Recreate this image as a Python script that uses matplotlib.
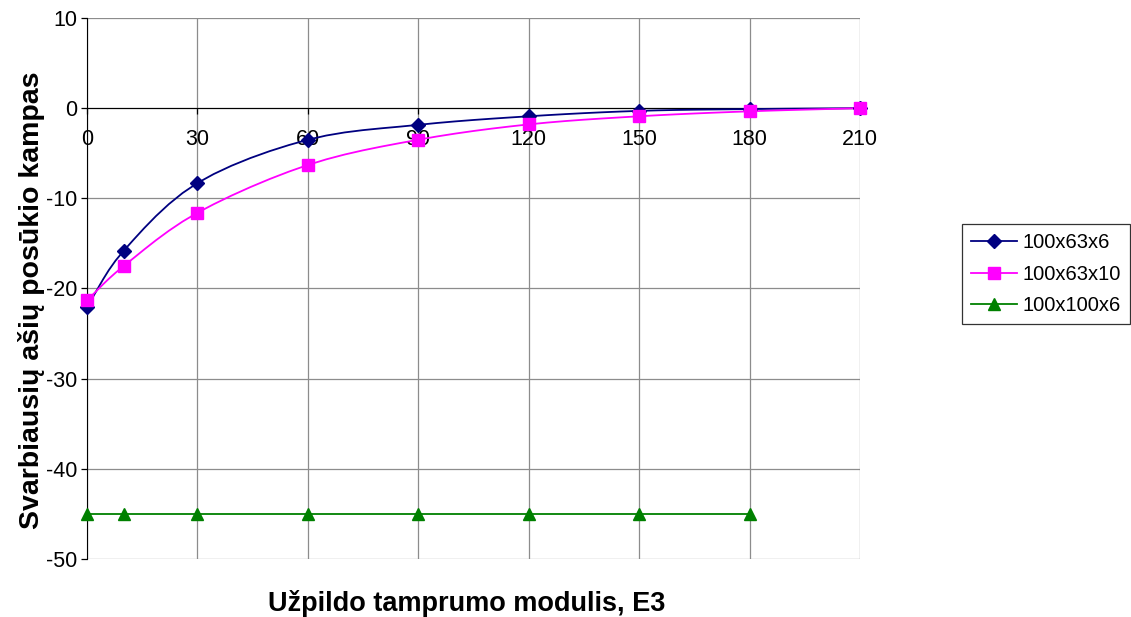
import matplotlib
matplotlib.use("Agg")
import matplotlib.pyplot as plt
import numpy as np

plt.rcParams['font.family'] = ['Liberation Sans', 'DejaVu Sans']
plt.rcParams['axes.unicode_minus'] = False

# -----------------------------------
# Data
# -----------------------------------

x_vals = [0, 10, 30, 60, 90, 120, 150, 180, 210]
x_green = [0, 10, 30, 60, 90, 120, 150, 180]

s_63x6 = [-22.0, -15.8, -8.3, -3.5, -1.85, -0.9, -0.3, -0.1, 0.0]
s_63x10 = [-21.3, -17.5, -11.6, -6.3, -3.5, -1.8, -0.9, -0.35, 0.0]
s_100x6 = [-45, -45, -45, -45, -45, -45, -45, -45]

labels = ["100x63x6", "100x63x10", "100x100x6"]
x_ticks = [0, 30, 60, 90, 120, 150, 180, 210]
y_ticks = [-50, -40, -30, -20, -10, 0, 10]


def smooth(xs, ys, n=6):
    # Catmull-Rom through the points, like Excel's smoothed line
    xs = np.asarray(xs, float)
    ys = np.asarray(ys, float)
    px = np.concatenate([[2 * xs[0] - xs[1]], xs, [2 * xs[-1] - xs[-2]]])
    py = np.concatenate([[2 * ys[0] - ys[1]], ys, [2 * ys[-1] - ys[-2]]])
    out_x, out_y = [], []
    t = np.linspace(0, 1, n, endpoint=False)
    for i in range(1, len(px) - 2):
        for p, out in ((px, out_x), (py, out_y)):
            p0, p1, p2, p3 = p[i - 1], p[i], p[i + 1], p[i + 2]
            out.extend(0.5 * ((2 * p1) + (-p0 + p2) * t
                              + (2 * p0 - 5 * p1 + 4 * p2 - p3) * t ** 2
                              + (-p0 + 3 * p1 - 3 * p2 + p3) * t ** 3))
    out_x.append(xs[-1])
    out_y.append(ys[-1])
    return out_x, out_y


# -----------------------------------
# Figure Setup
# -----------------------------------

fig = plt.figure(figsize=(11.31, 6.17), dpi=100)
ax = fig.add_axes([87 / 1131, 1 - 559 / 617, 773 / 1131, 541 / 617])

ax.set_xlim(0, 210)
ax.set_ylim(-50, 10)
ax.set_xticks(x_ticks)
ax.set_yticks(y_ticks)
ax.grid(True, color="#8c8c8c", linewidth=0.9)
ax.set_axisbelow(True)

for side in ["top", "right"]:
    ax.spines[side].set_visible(False)
ax.spines["left"].set_color("black")
ax.spines["bottom"].set_position(("data", 0))
ax.spines["bottom"].set_color("black")

ax.tick_params(axis="both", labelsize=15.5, direction="out", length=4,
               color="black", width=0.9)
ax.tick_params(axis="x", pad=11)
ax.tick_params(axis="y", pad=3)

# -----------------------------------
# Series
# -----------------------------------

colors = ["#000080", "#FF00FF", "#008000"]
markers = ["D", "s", "^"]
msizes = [7, 8, 8]

for xs, ys, c, m, ms, lab in zip([x_vals, x_vals, x_green],
                                 [s_63x6, s_63x10, s_100x6],
                                 colors, markers, msizes, labels):
    sx, sy = smooth(xs, ys)
    ax.plot(sx, sy, color=c, linewidth=1.3, zorder=3, clip_on=False)
    ax.plot(xs, ys, linestyle="none", marker=m, markersize=ms, color=c,
            zorder=4, clip_on=False)
    ax.plot([], [], color=c, linewidth=1.3, marker=m, markersize=ms,
            label=lab)

ax.set_xlabel("Užpildo tamprumo modulis, E3", fontsize=19.5,
              fontweight="bold")
ax.xaxis.set_label_coords(0.491, -0.058)
ax.set_ylabel("Svarbiausių ašių posūkio kampas", fontsize=20.5,
              fontweight="bold")
ax.yaxis.set_label_coords(-0.072, 0.479)
ax.yaxis.label.set_va("center")

leg = fig.legend(loc="upper left", bbox_to_anchor=(962 / 1131, 1 - 224 / 617),
                 fontsize=14.5, frameon=True, fancybox=False,
                 edgecolor="black", handlelength=2.3, handletextpad=0.25,
                 borderpad=0.45, labelspacing=0.62, borderaxespad=0)
leg.get_frame().set_linewidth(0.9)

fig.savefig("out.png", dpi=100)
